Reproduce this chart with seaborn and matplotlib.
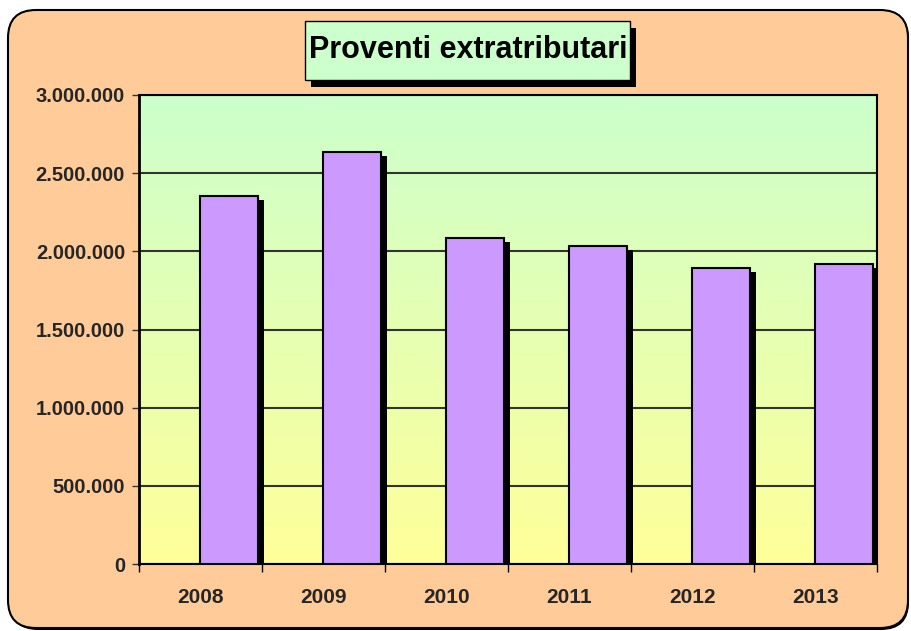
import numpy as np
import pandas as pd
import seaborn as sns
import matplotlib.pyplot as plt
import matplotlib.patheffects as pe
from matplotlib.patches import FancyBboxPatch, Rectangle
from matplotlib.colors import LinearSegmentedColormap
from matplotlib.ticker import FuncFormatter
from matplotlib.transforms import IdentityTransform

years = ["2008", "2009", "2010", "2011", "2012", "2013"]
proventi = [2354000, 2637000, 2087000, 2036000, 1893000, 1921000]
title = "Proventi extratributari"

sns.set_theme(style="white")
plt.rcParams["font.family"] = ["Liberation Sans", "DejaVu Sans"]
plt.rcParams["font.weight"] = "bold"

W, H = 912, 631
fig = plt.figure(figsize=(W / 100, H / 100), dpi=100)
fig.patch.set_facecolor("white")

# outer rounded panel with a small shadow
px = IdentityTransform()
shadow = FancyBboxPatch((10, 1), W - 13, H - 12, boxstyle="round,pad=0,rounding_size=28",
                        transform=px, fc="black", ec="none", zorder=0)
panel = FancyBboxPatch((8, 3), W - 12, H - 13, boxstyle="round,pad=0,rounding_size=28",
                       transform=px, fc="#FFCC99", ec="black", lw=1.5, zorder=1)
fig.add_artist(shadow)
fig.add_artist(panel)

ax = fig.add_axes([139 / W, (H - 564) / H, (877 - 139) / W, (564 - 95) / H])
ax.set_facecolor("none")
ax.set_zorder(2)

# gradient plot background
grad = np.linspace(0, 1, 256).reshape(-1, 1)
cmap = LinearSegmentedColormap.from_list("bg", ["#FFFF99", "#CCFFCC"])
ax.imshow(grad, extent=[0, 1, 0, 1], transform=ax.transAxes, origin="lower",
          aspect="auto", cmap=cmap, zorder=0)

df = pd.DataFrame({
    "anno": years * 2,
    "serie": ["vuota"] * len(years) + ["proventi"] * len(years),
    "valore": [np.nan] * len(years) + proventi,
})
sns.barplot(data=df, x="anno", y="valore", hue="serie", hue_order=["vuota", "proventi"],
            order=years, palette={"vuota": "#CC99FF", "proventi": "#CC99FF"},
            saturation=1, width=0.93, dodge=True, edgecolor="black", linewidth=1.5,
            legend=False, ax=ax, zorder=3)

for p in ax.patches:
    p.set_path_effects([pe.SimplePatchShadow(offset=(4.3, -2.9), shadow_rgbFace="black", alpha=1.0),
                        pe.Normal()])

ax.set_ylim(0, 3000000)
ax.set_xlim(-0.5, len(years) - 0.5)
ax.set_yticks(np.arange(0, 3000001, 500000))
ax.yaxis.set_major_formatter(FuncFormatter(lambda v, _: f"{int(v):,}".replace(",", ".")))
ax.tick_params(axis="y", which="major", left=True, length=5, width=1, color="#333333",
               labelsize=14.5, pad=5)
ax.set_xticks(np.arange(-0.5, len(years), 1))
ax.set_xticklabels([])
ax.set_xticks(np.arange(len(years)), minor=True)
ax.set_xticklabels(years, minor=True, fontsize=15, fontweight="bold")
ax.tick_params(axis="x", which="major", bottom=True, length=6, width=1, color="black")
ax.tick_params(axis="x", which="minor", bottom=False, length=0, pad=17)
for lab in ax.get_yticklabels():
    lab.set_fontweight("bold")

ax.grid(axis="y", color="#333333", lw=1.5)
ax.set_axisbelow(True)
for s in ax.spines.values():
    s.set_visible(True)
    s.set_color("black")
    s.set_linewidth(1.5)
ax.spines["left"].set_linewidth(2)
ax.set_xlabel("")
ax.set_ylabel("")

# title box with shadow
fig.add_artist(Rectangle((311, H - 87), 325, 59, transform=px, fc="black", ec="none", zorder=3))
fig.add_artist(Rectangle((305, H - 80), 325, 59, transform=px, fc="#CCFFCC", ec="black", lw=1,
                         zorder=4))
fig.text(468 / W, (H - 50) / H, title, ha="center", va="center", fontsize=22,
         fontweight="bold", color="black", zorder=5)

fig.savefig("out.png", dpi=100)
